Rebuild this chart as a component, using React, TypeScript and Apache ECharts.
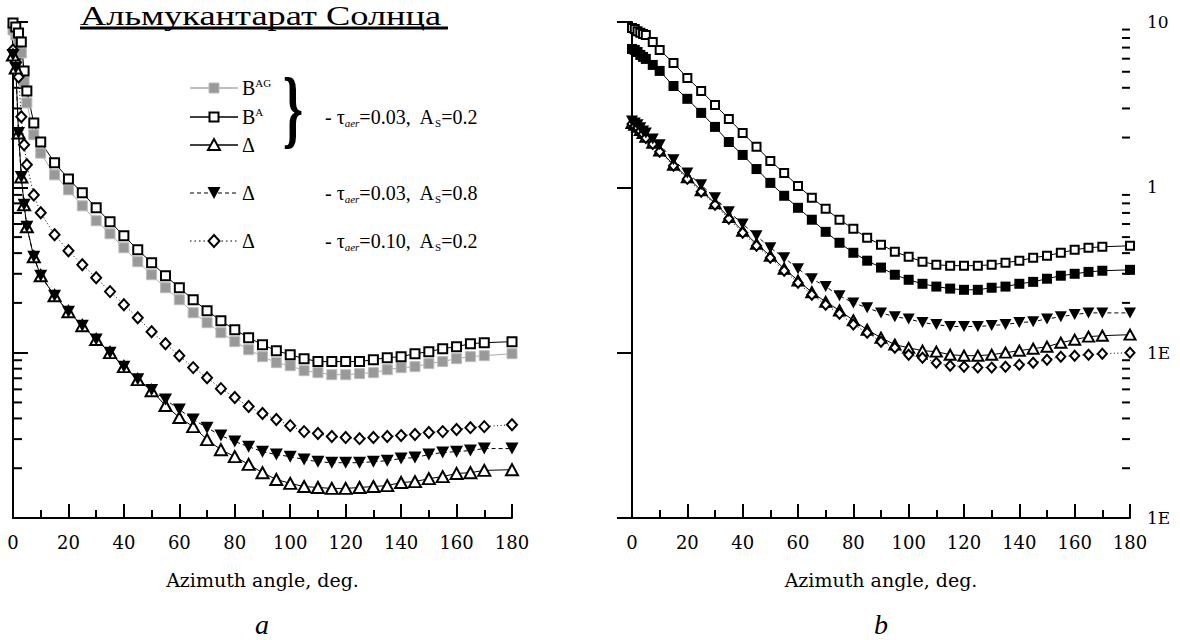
import React, { useEffect, useRef } from "react";
import * as echarts from "echarts";

// Azimuth angles (deg) shared by all series
const angles = [0, 1, 2, 3, 4, 5, 7.5, 10, 15, 20, 25, 30, 35, 40, 45, 50, 55, 60, 65, 70, 75, 80, 85, 90, 95, 100, 105, 110, 115, 120, 125, 130, 135, 140, 145, 150, 155, 160, 165, 170, 180];

// Panel a
const leftBAG = [8.95, 8.35, 7.57, 6.5, 4.34, 3.24, 2.08, 1.61, 1.19, 0.966, 0.773, 0.628, 0.524, 0.431, 0.355, 0.296, 0.247, 0.209, 0.1744, 0.1518, 0.1321, 0.1166, 0.1042, 0.0946, 0.087, 0.0834, 0.0778, 0.0757, 0.0736, 0.0736, 0.0747, 0.0757, 0.0789, 0.0812, 0.0823, 0.0859, 0.0883, 0.092, 0.0946, 0.0959, 0.0986];
const leftBA = [9.86, 9.33, 8.59, 7.57, 5.06, 3.83, 2.45, 1.88, 1.41, 1.125, 0.926, 0.752, 0.619, 0.509, 0.419, 0.35, 0.292, 0.247, 0.209, 0.1795, 0.156, 0.1377, 0.1232, 0.1118, 0.1028, 0.0972, 0.092, 0.0883, 0.0883, 0.0883, 0.0883, 0.0907, 0.0933, 0.0946, 0.0986, 0.1014, 0.1057, 0.1087, 0.1133, 0.1149, 0.1166];
const leftDeltaA02 = [6.32, 5.27, 2.13, 1.156, 0.784, 0.577, 0.38, 0.292, 0.221, 0.177, 0.1456, 0.12, 0.1, 0.0823, 0.0687, 0.0589, 0.0479, 0.0405, 0.0357, 0.0298, 0.0259, 0.0235, 0.0211, 0.0188, 0.0171, 0.0162, 0.0155, 0.0153, 0.0151, 0.0151, 0.0153, 0.0155, 0.0157, 0.0164, 0.0166, 0.0173, 0.0178, 0.0186, 0.0188, 0.0194, 0.0196];
const leftDeltaA08 = [6.32, 5.27, 2.13, 1.156, 0.784, 0.577, 0.38, 0.292, 0.221, 0.177, 0.1456, 0.12, 0.1, 0.0823, 0.069, 0.0595, 0.052, 0.0453, 0.0394, 0.0352, 0.0315, 0.029, 0.027, 0.0252, 0.0242, 0.0235, 0.0226, 0.0219, 0.0216, 0.0216, 0.0216, 0.0219, 0.0222, 0.0229, 0.0232, 0.0242, 0.0249, 0.0252, 0.0256, 0.0263, 0.0263];
const leftDeltaT010 = [6.78, 5.73, 4.65, 2.67, 1.81, 1.37, 0.9, 0.702, 0.516, 0.413, 0.34, 0.284, 0.234, 0.195, 0.1626, 0.1339, 0.1133, 0.0959, 0.0812, 0.0706, 0.0606, 0.0535, 0.0472, 0.0428, 0.0394, 0.0362, 0.0333, 0.0324, 0.0311, 0.0307, 0.0302, 0.0307, 0.0311, 0.0315, 0.032, 0.0329, 0.0333, 0.0343, 0.0352, 0.0357, 0.0367];

// Panel b
const rightOpenSq = [9.2, 9.07, 8.8, 8.6, 8.47, 8.35, 7.57, 6.78, 5.65, 4.59, 3.83, 3.15, 2.59, 2.13, 1.76, 1.445, 1.22, 1.02, 0.865, 0.742, 0.637, 0.561, 0.495, 0.45, 0.408, 0.38, 0.355, 0.34, 0.336, 0.336, 0.336, 0.34, 0.35, 0.36, 0.375, 0.386, 0.402, 0.419, 0.431, 0.437, 0.443];
const rightFilledSq = [6.87, 6.78, 6.59, 6.32, 6.15, 5.98, 5.5, 5.06, 4.1, 3.43, 2.82, 2.32, 1.88, 1.57, 1.29, 1.064, 0.889, 0.752, 0.637, 0.538, 0.462, 0.402, 0.36, 0.327, 0.296, 0.276, 0.261, 0.251, 0.244, 0.24, 0.24, 0.247, 0.251, 0.261, 0.268, 0.28, 0.292, 0.3, 0.308, 0.313, 0.317];
const rightDownTri = [2.52, 2.45, 2.39, 2.29, 2.19, 2.13, 1.96, 1.81, 1.47, 1.22, 1.035, 0.865, 0.711, 0.601, 0.509, 0.431, 0.375, 0.322, 0.28, 0.251, 0.221, 0.2, 0.187, 0.174, 0.165, 0.16, 0.152, 0.148, 0.144, 0.144, 0.144, 0.146, 0.148, 0.152, 0.154, 0.16, 0.165, 0.17, 0.174, 0.174, 0.174];
const rightOpenTri = [2.45, 2.39, 2.32, 2.22, 2.13, 2.02, 1.86, 1.67, 1.37, 1.15, 0.96, 0.8, 0.66, 0.545, 0.455, 0.385, 0.322, 0.273, 0.232, 0.203, 0.18, 0.157, 0.1377, 0.1232, 0.1118, 0.107, 0.1028, 0.1014, 0.0972, 0.0959, 0.0959, 0.0972, 0.1, 0.1028, 0.1057, 0.1087, 0.1149, 0.1198, 0.125, 0.1267, 0.1285];
const rightDiamond = [2.42, 2.35, 2.29, 2.19, 2.1, 1.99, 1.83, 1.64, 1.35, 1.125, 0.94, 0.784, 0.645, 0.531, 0.443, 0.375, 0.313, 0.265, 0.224, 0.195, 0.172, 0.148, 0.132, 0.1166, 0.107, 0.0972, 0.0933, 0.087, 0.0834, 0.0823, 0.0812, 0.0812, 0.0823, 0.0846, 0.087, 0.0907, 0.0946, 0.0959, 0.0972, 0.0986, 0.1];

// Axis ticks / labels
const yMinorTicks = [0.02, 0.03, 0.04, 0.05, 0.06, 0.07, 0.08, 0.09, 0.2, 0.3, 0.4, 0.5, 0.6, 0.7, 0.8, 0.9, 2, 3, 4, 5, 6, 7, 8, 9];
const rightTickLabels: [number, string][] = [[0.01, "1E"], [0.1, "1E"], [1, "1"], [10, "10"]];
const titleText = "Альмукантарат Солнца";
const xAxisTitle = "Azimuth angle, deg.";
const panelLabels = ["a", "b"];

const FONT = "Liberation Serif";
const AXFONT = "DejaVu Serif";

export default function App() {
  const ref = useRef<HTMLDivElement>(null);

  useEffect(() => {
    document.body.style.margin = "0";
    const chart = echarts.init(ref.current!, null, { renderer: "svg" });
    const pairs = (ys: number[]) => angles.map((a, i) => [a, ys[i]]);

    const mk = (name: string, ys: number[], idx: number, symbol: string, size: any, item: any, line: any, rotate = 0) => ({
      type: "line",
      name,
      xAxisIndex: idx,
      yAxisIndex: idx,
      data: pairs(ys),
      symbol,
      symbolSize: size,
      symbolRotate: rotate,
      showSymbol: true,
      showAllSymbol: true,
      clip: false,
      silent: true,
      itemStyle: item,
      lineStyle: line,
      emphasis: { disabled: true },
    });

    const openStyle = { color: "#fff", borderColor: "#000", borderWidth: 2 };
    const solid = { color: "#000", width: 1 };
    const dashed = { color: "#000", width: 1, type: [4, 3] };
    const dotted = { color: "#000", width: 1, type: [1, 2.5] };

    const xAxisBase = (gridIndex: number) => ({
      type: "value",
      gridIndex,
      min: 0,
      max: 180,
      interval: 20,
      axisLine: { onZero: false, lineStyle: { color: "#000", width: 2 } },
      axisTick: { inside: true, length: 14, lineStyle: { color: "#000", width: 2 } },
      minorTick: { show: true, splitNumber: 2, length: 8, lineStyle: { color: "#000", width: 2 } },
      splitLine: { show: false },
      axisLabel: { color: "#000", fontSize: 18, fontFamily: AXFONT, margin: 15, showMinLabel: true, showMaxLabel: true },
      name: xAxisTitle,
      nameLocation: "middle",
      nameGap: 52,
      nameTextStyle: { color: "#000", fontSize: 19, fontFamily: AXFONT },
    });

    const yAxisBase = (gridIndex: number, position: string, showLabel: boolean) => ({
      type: "log",
      logBase: 10,
      gridIndex,
      position,
      min: 0.01,
      max: 10,
      axisLine: { show: true, lineStyle: { color: "#000", width: 2 } },
      axisTick: { show: true, inside: true, length: 15, lineStyle: { color: "#000", width: 2 } },
      splitLine: { show: false },
      axisLabel: {
        show: showLabel,
        color: "#000",
        fontSize: 17,
        fontFamily: AXFONT,
        margin: 17,
        formatter: (v: number) => {
          const hit = rightTickLabels.find((p) => Math.abs(Math.log10(p[0]) - Math.log10(v)) < 1e-6);
          return hit ? hit[1] : "";
        },
      },
    });

    chart.setOption({
      animation: false,
      backgroundColor: "#fff",
      textStyle: { fontFamily: FONT },
      grid: [
        { left: 13, top: 22, width: 499, height: 496 },
        { left: 632, top: 22, width: 498, height: 496 },
      ],
      xAxis: [xAxisBase(0), xAxisBase(1)],
      yAxis: [yAxisBase(0, "left", false), yAxisBase(1, "right", true)],
      series: [
        mk("B^AG", leftBAG, 0, "rect", 10, { color: "#999", borderColor: "#bbb", borderWidth: 1 }, { color: "#aaa", width: 1 }),
        mk("B^A", leftBA, 0, "rect", 9, openStyle, solid),
        mk("Δ τ=0.10", leftDeltaT010, 0, "diamond", [10, 11], openStyle, dotted),
        mk("Δ As=0.2", leftDeltaA02, 0, "triangle", [12, 11], openStyle, solid),
        mk("Δ As=0.8", leftDeltaA08, 0, "triangle", [13, 12], { color: "#000" }, dashed, 180),

        mk("B^A b", rightOpenSq, 1, "rect", 8, openStyle, solid),
        mk("B^AG b", rightFilledSq, 1, "rect", 10, { color: "#000" }, solid),
        mk("Δ As=0.2 b", rightOpenTri, 1, "triangle", [11, 10], openStyle, solid),
        mk("Δ τ=0.10 b", rightDiamond, 1, "diamond", [9, 10], openStyle, dotted),
        mk("Δ As=0.8 b", rightDownTri, 1, "triangle", [12, 11], { color: "#000" }, dashed, 180),
      ],
    });

    const g: any[] = [];
    // minor ticks on log axes
    yMinorTicks.forEach((v, i) => {
      const pl = chart.convertToPixel({ gridIndex: 0 }, [0, v]) as number[];
      const pr = chart.convertToPixel({ gridIndex: 1 }, [180, v]) as number[];
      g.push({ type: "line", id: "ml" + i, silent: true, shape: { x1: pl[0], y1: pl[1], x2: pl[0] + 9, y2: pl[1] }, style: { stroke: "#000", lineWidth: 2 } });
      g.push({ type: "line", id: "mr" + i, silent: true, shape: { x1: pr[0], y1: pr[1], x2: pr[0] - 8, y2: pr[1] }, style: { stroke: "#000", lineWidth: 2 } });
    });

    // title
    g.push({
      type: "text", id: "title", x: 80, y: 16, scaleX: 1.3, silent: true,
      style: { text: titleText, fontSize: 28, fontFamily: FONT, fill: "#000", align: "left", verticalAlign: "middle" },
    });
    g.push({ type: "rect", id: "underline", silent: true, shape: { x: 80, y: 26.5, width: 368, height: 3 }, style: { fill: "#000" } });

    // panel letters
    [262, 881].forEach((x, i) => {
      g.push({
        type: "text", id: "pl" + i, x, y: 624, silent: true,
        style: { text: panelLabels[i], fontSize: 28, fontStyle: "italic", fontFamily: FONT, fill: "#000", align: "center", verticalAlign: "middle" },
      });
    });

    // legend
    const rows = [88, 117, 145, 193, 241];
    const lx1 = 190, lx2 = 238, sx = 214;
    const lineStyles = [
      { stroke: "#aaa", lineWidth: 1.5 },
      { stroke: "#000", lineWidth: 1.5 },
      { stroke: "#000", lineWidth: 1.5 },
      { stroke: "#000", lineWidth: 1.2, lineDash: [4, 3] },
      { stroke: "#000", lineWidth: 1.2, lineDash: [1.5, 3] },
    ];
    rows.forEach((y, i) => {
      g.push({ type: "line", id: "ll" + i, silent: true, shape: { x1: lx1, y1: y, x2: lx2, y2: y }, style: lineStyles[i] });
    });
    g.push({ type: "rect", id: "ls0", silent: true, shape: { x: sx - 5, y: rows[0] - 5, width: 10, height: 10 }, style: { fill: "#999", stroke: "#bbb", lineWidth: 1 } });
    g.push({ type: "rect", id: "ls1", silent: true, shape: { x: sx - 4.5, y: rows[1] - 4.5, width: 9, height: 9 }, style: { fill: "#fff", stroke: "#000", lineWidth: 2 } });
    g.push({ type: "polygon", id: "ls2", silent: true, shape: { points: [[sx, rows[2] - 6], [sx - 6, rows[2] + 5], [sx + 6, rows[2] + 5]] }, style: { fill: "#fff", stroke: "#000", lineWidth: 2 } });
    g.push({ type: "polygon", id: "ls3", silent: true, shape: { points: [[sx - 6.5, rows[3] - 6], [sx + 6.5, rows[3] - 6], [sx, rows[3] + 6]] }, style: { fill: "#000" } });
    g.push({ type: "polygon", id: "ls4", silent: true, shape: { points: [[sx, rows[4] - 6], [sx + 5.5, rows[4]], [sx, rows[4] + 6], [sx - 5.5, rows[4]]] }, style: { fill: "#fff", stroke: "#000", lineWidth: 2 } });

    const rich = {
      m: { fontSize: 20, fontFamily: FONT, fill: "#000", lineHeight: 22 },
      sup: { fontSize: 11, fontFamily: FONT, fill: "#000", lineHeight: 11, verticalAlign: "top" },
      sub: { fontSize: 11, fontFamily: FONT, fill: "#000", lineHeight: 11, verticalAlign: "bottom" },
      subi: { fontSize: 11, fontFamily: FONT, fontStyle: "italic", fill: "#000", lineHeight: 11, verticalAlign: "bottom" },
    };
    const legendLabels = ["{m|B}{sup|AG}", "{m|B}{sup|A}", "{m|Δ}", "{m|Δ}", "{m|Δ}"];
    rows.forEach((y, i) => {
      g.push({
        type: "text", id: "lt" + i, x: 242, y, silent: true,
        style: { text: legendLabels[i], fontFamily: FONT, rich, align: "left", verticalAlign: "middle" },
      });
    });
    const descs: [number, string][] = [
      [rows[1], "{m|- τ}{subi|aer}{m|=0.03,  A}{sub|S}{m|=0.2}"],
      [rows[3], "{m|- τ}{subi|aer}{m|=0.03,  A}{sub|S}{m|=0.8}"],
      [rows[4], "{m|- τ}{subi|aer}{m|=0.10,  A}{sub|S}{m|=0.2}"],
    ];
    descs.forEach(([y, t], i) => {
      g.push({
        type: "text", id: "ld" + i, x: 325, y, silent: true,
        style: { text: t, fontFamily: FONT, rich, align: "left", verticalAlign: "middle" },
      });
    });
    g.push({
      type: "text", id: "brace", x: 293, y: 108, scaleX: 0.6, silent: true,
      style: { text: "}", fontSize: 86, fontWeight: "bold", fontFamily: FONT, fill: "#000", align: "center", verticalAlign: "middle" },
    });

    chart.setOption({ graphic: { elements: g } });

    return () => chart.dispose();
  }, []);

  return <div ref={ref} style={{ position: "absolute", left: 0, top: 0, width: 1180, height: 640 }} />;
}
